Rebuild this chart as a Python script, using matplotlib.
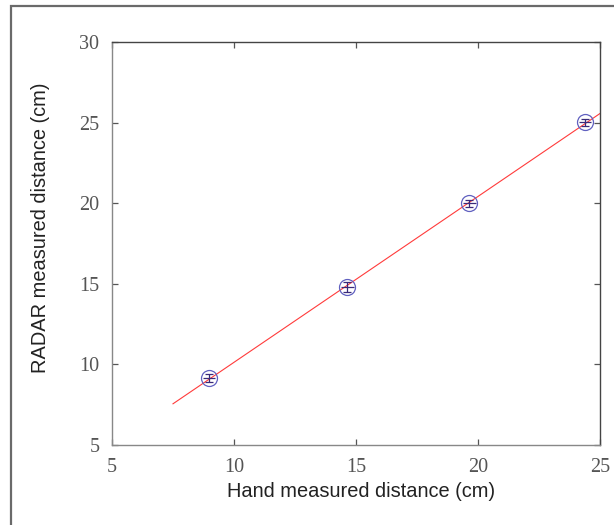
import numpy as np
import matplotlib
matplotlib.use("Agg")
import matplotlib.pyplot as plt
from matplotlib.patches import Rectangle

# Data
hand_cm = [8.98, 14.65, 19.65, 24.4]
radar_cm = [9.17, 14.8, 20.0, 25.03]
radar_err = [0.25, 0.3, 0.22, 0.22]
hand_err = [0.25, 0.25, 0.25, 0.25]
fit_range = [7.5, 26.0]
x_ticks = [5, 10, 15, 20, 25]
y_ticks = [5, 10, 15, 20, 25, 30]

fig = plt.figure(figsize=(6.14, 5.25), dpi=100)
fig.patch.set_facecolor("white")

# outer frame (cropped at right and bottom)
fig.patches.append(Rectangle((11 / 614, -0.2), 2.0, (525 - 6) / 525 + 0.2,
                             transform=fig.transFigure, fill=False,
                             edgecolor="#6a6a6a", linewidth=1.6))

ax = fig.add_axes([112 / 614, 80 / 525, 488 / 614, 403 / 525])

# linear fit line
coef = np.polyfit(hand_cm, radar_cm, 1)
fx = np.array(fit_range)
ax.plot(fx, np.polyval(coef, fx), color="#ff3b3b", linewidth=0.8, zorder=2)

# error bars
ax.errorbar(hand_cm, radar_cm, yerr=radar_err, fmt="none", ecolor="#3a2a7a",
            elinewidth=0.9, capsize=3, capthick=0.9, zorder=3)
ax.errorbar(hand_cm, radar_cm, xerr=hand_err, fmt="none", ecolor="#3a2a7a",
            elinewidth=0.9, capsize=0, zorder=3)
# circle markers
ax.plot(hand_cm, radar_cm, linestyle="none", marker="o", markersize=11.5,
        markerfacecolor="none", markeredgecolor="#6060c0", markeredgewidth=0.9,
        zorder=4)

ax.set_xlim(5, 25)
ax.set_ylim(5, 30)
ax.set_xticks(x_ticks)
ax.set_yticks(y_ticks)
ax.set_xticklabels([str(t) for t in x_ticks], family="Liberation Serif",
                   fontsize=14.5, color="#555555")
ax.set_yticklabels([str(t) for t in y_ticks], family="Liberation Serif",
                   fontsize=14.5, color="#555555")
ax.tick_params(direction="in", length=4, width=0.9, color="#555555",
               top=True, right=True, pad=9)

for side in ["left", "bottom"]:
    ax.spines[side].set_color("#888888")
    ax.spines[side].set_linewidth(1.0)
for side in ["top", "right"]:
    ax.spines[side].set_color("#444444")
    ax.spines[side].set_linewidth(1.0)

ax.set_xlabel("Hand measured distance (cm)", family="Liberation Sans",
              fontsize=14.4, color="#222222")
ax.set_ylabel("RADAR measured distance (cm)", family="Liberation Sans",
              fontsize=14.4, color="#222222")
ax.xaxis.set_label_coords(0.511, -0.092)
ax.yaxis.set_label_coords(-0.127, 0.54)

fig.savefig("out.png", dpi=100)
